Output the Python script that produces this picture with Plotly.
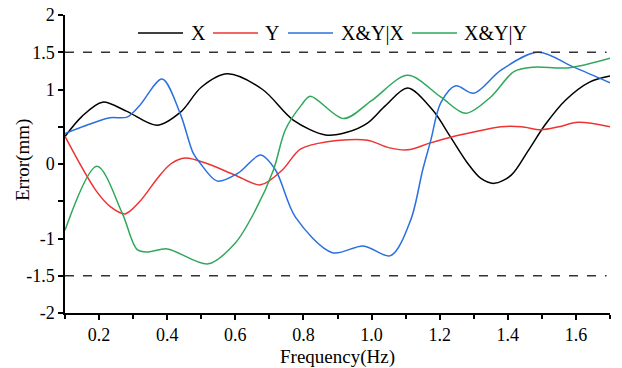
import plotly.graph_objects as go

# Series data
x_X = [0.10, 0.15, 0.21, 0.28, 0.37, 0.44, 0.50, 0.576, 0.68, 0.77, 0.865, 0.93, 0.988, 1.04, 1.106, 1.18, 1.232, 1.282, 1.32, 1.36, 1.41, 1.46, 1.51, 1.57, 1.64, 1.70]
y_X = [0.37, 0.64, 0.83, 0.71, 0.52, 0.70, 1.03, 1.21, 1.00, 0.59, 0.39, 0.43, 0.55, 0.78, 1.02, 0.72, 0.36, 0.01, -0.19, -0.26, -0.15, 0.18, 0.53, 0.86, 1.10, 1.18]

x_Y = [0.10, 0.19, 0.235, 0.276, 0.32, 0.37, 0.41, 0.453, 0.52, 0.60, 0.674, 0.738, 0.791, 0.87, 0.988, 1.05, 1.106, 1.17, 1.232, 1.30, 1.38, 1.44, 1.497, 1.55, 1.606, 1.70]
y_Y = [0.37, -0.35, -0.58, -0.67, -0.50, -0.20, 0.00, 0.08, 0.00, -0.15, -0.28, -0.08, 0.20, 0.30, 0.32, 0.22, 0.19, 0.28, 0.36, 0.43, 0.50, 0.50, 0.46, 0.50, 0.56, 0.50]

x_XYX = [0.10, 0.182, 0.232, 0.282, 0.32, 0.385, 0.438, 0.476, 0.497, 0.547, 0.609, 0.674, 0.718, 0.776, 0.885, 0.976, 1.056, 1.115, 1.15, 1.174, 1.203, 1.247, 1.30, 1.38, 1.488, 1.594, 1.70]
y_XYX = [0.41, 0.55, 0.62, 0.63, 0.79, 1.14, 0.68, 0.15, 0.01, -0.23, -0.12, 0.12, -0.08, -0.71, -1.19, -1.10, -1.23, -0.75, -0.08, 0.32, 0.82, 1.05, 0.95, 1.26, 1.50, 1.30, 1.09]

x_XYY = [0.10, 0.194, 0.268, 0.312, 0.344, 0.40, 0.521, 0.60, 0.659, 0.712, 0.747, 0.794, 0.82, 0.918, 1.00, 1.106, 1.203, 1.276, 1.35, 1.418, 1.476, 1.576, 1.70]
y_XYY = [-0.89, -0.03, -0.66, -1.15, -1.18, -1.14, -1.34, -1.06, -0.62, -0.08, 0.46, 0.79, 0.91, 0.61, 0.85, 1.19, 0.90, 0.68, 0.90, 1.24, 1.30, 1.29, 1.42]

series_names = ["X", "Y", "X&Y|X", "X&Y|Y"]
series_colors = ["#000000", "#ee3333", "#2a70e0", "#2fa85a"]

limit_values = [1.5, -1.5]
y_tickvals = [-2, -1.5, -1, -0.5, 0, 0.5, 1, 1.5, 2]
y_ticktext = ["-2", "-1.5", "-1", "", "0", "", "1", "1.5", "2"]
x_tickvals = [0.2, 0.4, 0.6, 0.8, 1.0, 1.2, 1.4, 1.6]
x_title = "Frequency(Hz)"
y_title = "Error(mm)"

W, H = 622, 368
ML, MR, MT, MB = 65, 12, 15, 55
PW, PH = W - ML - MR, H - MT - MB

def px_x(px):
    return (px - ML) / PW

def px_y(py):
    return (H - MB - py) / PH

fig = go.Figure()
for xs, ys, name, color in zip([x_X, x_Y, x_XYX, x_XYY], [y_X, y_Y, y_XYX, y_XYY], series_names, series_colors):
    fig.add_trace(go.Scatter(x=xs, y=ys, name=name, mode="lines", showlegend=False,
                             line=dict(color=color, width=1.5, shape="spline", smoothing=0.9)))

for v in limit_values:
    fig.add_shape(type="line", x0=0.1, x1=1.69, y0=v, y1=v, xref="x", yref="y",
                  line=dict(color="#333333", width=1.5, dash="dash"))

font_family = "Liberation Serif, Times New Roman, serif"

# Custom legend (line samples + labels) in paper coordinates
legend_line_px = [(138, 183), (213, 258), (288, 333), (412, 457)]
legend_text_px = [189, 263, 339, 462]
legend_y_px = 33
for (a, b), tx, name, color in zip(legend_line_px, legend_text_px, series_names, series_colors):
    fig.add_shape(type="line", xref="paper", yref="paper",
                  x0=px_x(a), x1=px_x(b), y0=px_y(legend_y_px), y1=px_y(legend_y_px),
                  line=dict(color=color, width=1.5))
    fig.add_annotation(xref="paper", yref="paper", x=px_x(tx), y=px_y(legend_y_px),
                       xanchor="left", yanchor="middle", text=name, showarrow=False,
                       font=dict(family=font_family, size=20, color="black"))

# Axis titles as annotations for exact placement
fig.add_annotation(xref="paper", yref="paper", x=0.5, y=px_y(357), xanchor="center", yanchor="middle",
                   text=x_title, showarrow=False, font=dict(family=font_family, size=19, color="black"))
fig.add_annotation(xref="paper", yref="paper", x=px_x(23), y=px_y(160), xanchor="center", yanchor="middle",
                   text=y_title, textangle=-90, showarrow=False,
                   font=dict(family=font_family, size=19, color="black"))

fig.update_layout(
    width=W, height=H,
    margin=dict(l=ML, r=MR, t=MT, b=MB),
    plot_bgcolor="white", paper_bgcolor="white",
    font=dict(family=font_family, size=18, color="black"),
    showlegend=False,
    xaxis=dict(range=[0.1, 1.7], tickvals=x_tickvals, tickformat=".1f",
               showline=True, linecolor="black", linewidth=1.5, mirror=False,
               ticks="outside", ticklen=5, tickwidth=1.5, tickcolor="black",
               minor=dict(dtick=0.1, tick0=0.1, ticks="outside", ticklen=4, tickwidth=1.5, tickcolor="black"),
               showgrid=False, zeroline=False, automargin=False,
               tickfont=dict(size=18)),
    yaxis=dict(range=[-2, 2], tickvals=y_tickvals, ticktext=y_ticktext,
               showline=True, linecolor="black", linewidth=1.5,
               ticks="outside", ticklen=5, tickwidth=1.5, tickcolor="black",
               showgrid=False, zeroline=False, automargin=False,
               tickfont=dict(size=18)),
)

fig.write_html("out.html")
